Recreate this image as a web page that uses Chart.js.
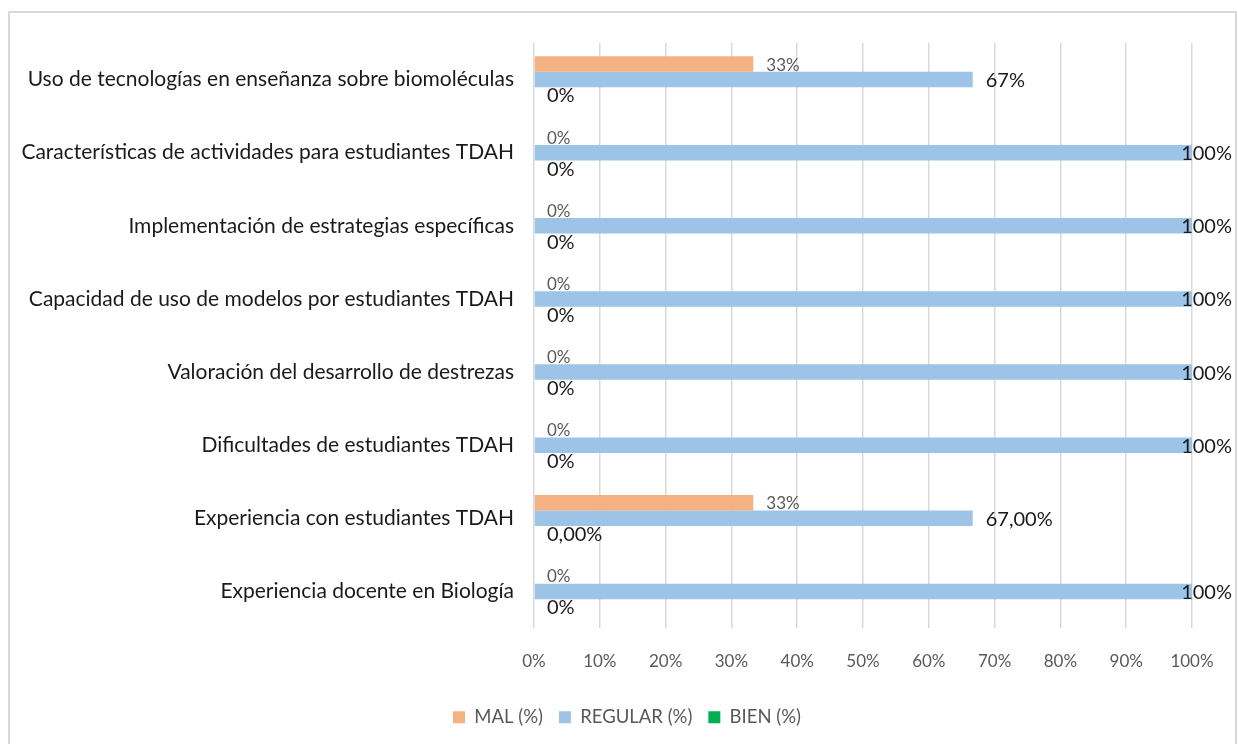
<!DOCTYPE html>
<html>
<head>
<meta charset="utf-8">
<script src="https://cdn.jsdelivr.net/npm/chart.js@4/dist/chart.umd.min.js"></script>
<style>
  html, body { margin: 0; padding: 0; background: #fff; }
  #wrap { position: relative; width: 1238px; height: 744px; }
</style>
</head>
<body>
<div id="wrap"><canvas id="chart" width="1238" height="744"></canvas></div>
<script>
// categories, top to bottom
var categorias = [
  'Uso de tecnologías en enseñanza sobre biomoléculas',
  'Características de actividades para estudiantes TDAH',
  'Implementación de estrategias específicas',
  'Capacidad de uso de modelos por estudiantes TDAH',
  'Valoración del desarrollo de destrezas',
  'Dificultades de estudiantes TDAH',
  'Experiencia con estudiantes TDAH',
  'Experiencia docente en Biología'
];

var mal = [33.33, 0, 0, 0, 0, 0, 33.33, 0];
var regular = [66.67, 100, 100, 100, 100, 100, 66.67, 100];
var bien = [0, 0, 0, 0, 0, 0, 0, 0];

// data label texts as printed in the original
var malTxt = ['33%', '0%', '0%', '0%', '0%', '0%', '33%', '0%'];
var regularTxt = ['67%', '100%', '100%', '100%', '100%', '100%', '67,00%', '100%'];
var bienTxt = ['0%', '0%', '0%', '0%', '0%', '0%', '0,00%', '0%'];

var xTicks = [0, 10, 20, 30, 40, 50, 60, 70, 80, 90, 100];

var FONT = 'Lato, Carlito, Calibri, sans-serif';

// little helper to write values next to the bars
var barLabels = {
  id: 'barLabels',
  afterDatasetsDraw: function (chart) {
    var ctx = chart.ctx;
    var styles = [
      { txt: malTxt, color: '#595959', size: 17, off: 13 },
      { txt: regularTxt, color: '#1a1a1a', size: 20, off: 13 },
      { txt: bienTxt, color: '#1a1a1a', size: 20, off: 13 }
    ];
    ctx.save();
    ctx.textBaseline = 'middle';
    ctx.textAlign = 'left';
    chart.data.datasets.forEach(function (ds, i) {
      var meta = chart.getDatasetMeta(i);
      var st = styles[i];
      ctx.fillStyle = st.color;
      ctx.font = st.size + 'px ' + FONT;
      meta.data.forEach(function (bar, j) {
        var t = st.txt[j];
        var x = bar.x + st.off;
        var w = ctx.measureText(t).width;
        if (x + w > chart.width - 6) x = chart.width - 6 - w;
        ctx.fillText(t, x, bar.y + 1);
      });
    });
    ctx.restore();
  }
};

var frame = {
  id: 'frame',
  beforeDraw: function (chart) {
    var ctx = chart.ctx;
    ctx.save();
    ctx.strokeStyle = '#d9d9d9';
    ctx.lineWidth = 2;
    ctx.strokeRect(9, 12, chart.width - 11, chart.height + 10);
    ctx.restore();
  }
};

// legend sits a bit right of the canvas centre in the original
var legendShift = {
  id: 'legendShift',
  afterLayout: function (chart) {
    chart.legend.left = 62;
  }
};

var ctx = document.getElementById('chart').getContext('2d');
var chart = new Chart(ctx, {
  type: 'bar',
  data: {
    labels: categorias,
    datasets: [
      { label: 'MAL (%)', data: mal, backgroundColor: '#F4B183' },
      { label: 'REGULAR (%)', data: regular, backgroundColor: '#9DC3E6' },
      { label: 'BIEN (%)', data: bien, backgroundColor: '#00B050' }
    ]
  },
  options: {
    indexAxis: 'y',
    responsive: false,
    animation: false,
    datasets: {
      bar: { categoryPercentage: 0.635, barPercentage: 1 }
    },
    layout: { padding: { top: 43, right: 46, bottom: 7.5, left: 0 } },
    scales: {
      x: {
        min: 0,
        max: 100,
        afterBuildTicks: function (scale) {
          scale.ticks = xTicks.map(function (v) { return { value: v }; });
        },
        afterFit: function (scale) { scale.height = 64; },
        grid: { color: '#d9d9d9', lineWidth: 1.5, drawTicks: false },
        border: { display: false },
        ticks: {
          padding: 23,
          color: '#595959',
          font: { family: FONT, size: 17 },
          callback: function (v) { return v + '%'; }
        }
      },
      y: {
        afterFit: function (scale) { scale.width = 534; },
        grid: { display: false },
        border: { display: false },
        ticks: {
          padding: 12,
          color: '#1a1a1a',
          font: { family: FONT, size: 21 }
        }
      }
    },
    plugins: {
      legend: {
        position: 'bottom',
        labels: {
          boxWidth: 12,
          boxHeight: 12,
          padding: 16,
          color: '#595959',
          font: { family: FONT, size: 18.5 },
          generateLabels: function (chart) {
            var items = Chart.defaults.plugins.legend.labels.generateLabels(chart);
            items.forEach(function (it) { it.lineWidth = 0; });
            return items;
          }
        }
      },
      tooltip: { enabled: false }
    }
  },
  plugins: [frame, legendShift, barLabels]
});
</script>
</body>
</html>
